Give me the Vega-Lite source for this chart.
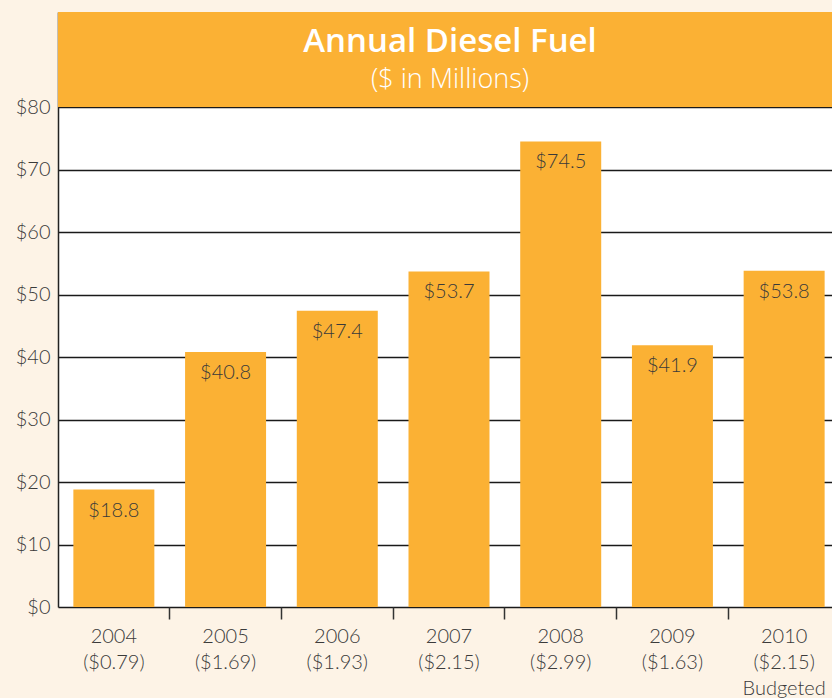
{
  "$schema": "https://vega.github.io/schema/vega-lite/v6.json",
  "width": 774,
  "height": 595,
  "autosize": {"type": "none"},
  "padding": {"left": 58, "top": 12, "right": 0, "bottom": 91},
  "background": "#FDF3E6",
  "config": {"view": {"fill": "white", "stroke": null}, "font": "Lato"},
  "title": {
    "text": "Annual Diesel Fuel",
    "subtitle": "($ in Millions)",
    "anchor": "middle",
    "dx": 5,
    "color": "white",
    "subtitleColor": "white",
    "font": "Open Sans",
    "subtitleFont": "Open Sans",
    "fontSize": 33,
    "fontWeight": 600,
    "subtitleFontSize": 27,
    "subtitleFontWeight": 300,
    "subtitlePadding": 8,
    "offset": -81
  },
  "data": {
    "values": [
      {"label": "2004|($0.79)", "value": 18.8},
      {"label": "2005|($1.69)", "value": 40.8},
      {"label": "2006|($1.93)", "value": 47.4},
      {"label": "2007|($2.15)", "value": 53.7},
      {"label": "2008|($2.99)", "value": 74.5},
      {"label": "2009|($1.63)", "value": 41.9},
      {"label": "2010|($2.15)|Budgeted", "value": 53.8}
    ]
  },
  "encoding": {
    "x": {
      "field": "label",
      "type": "nominal",
      "sort": null,
      "scale": {"range": [0, 782], "paddingInner": 0.275, "paddingOuter": 0.1375},
      "axis": {
        "title": null,
        "labelAngle": 0,
        "labelExpr": "split(datum.label, '|')",
        "labelFontSize": 20,
        "labelFontWeight": 300,
        "labelColor": "#3a3a3a",
        "labelLineHeight": 26,
        "labelPadding": 7,
        "labelBaseline": "top",
        "bandPosition": -0.1896,
        "tickSize": 12,
        "tickColor": "#333",
        "tickWidth": 1.5,
        "tickOpacity": {"condition": {"test": "datum.value === '2004|($0.79)'", "value": 0}, "value": 1},
        "domain": false,
        "grid": false,
        "zindex": 0
      }
    }
  },
  "layer": [
    {
      "mark": {"type": "bar", "color": "#FBB134"},
      "encoding": {
        "y": {
          "field": "value",
          "type": "quantitative",
          "scale": {"domain": [0, 95.2], "nice": false},
          "axis": {
            "title": null,
            "values": [0, 10, 20, 30, 40, 50, 60, 70, 80],
            "format": "$.0f",
            "labelFontSize": 20,
            "labelFontWeight": 300,
            "labelColor": "#3a3a3a",
            "labelPadding": 8,
            "ticks": false,
            "domain": true,
            "domainColor": "#222",
            "domainWidth": 1.5,
            "grid": true,
            "gridColor": "#1a1a1a",
            "gridWidth": 1.5,
            "zindex": 0
          }
        }
      }
    },
    {
      "mark": {"type": "text", "dy": 21, "fontSize": 20, "fontWeight": 300, "color": "#3a3a3a", "baseline": "middle"},
      "encoding": {
        "y": {"field": "value", "type": "quantitative"},
        "text": {"field": "value", "type": "quantitative", "format": "$.1f"}
      }
    },
    {
      "data": {"values": [{}]},
      "mark": {"type": "rect", "color": "#FBB134"},
      "encoding": {
        "x": {"value": 0},
        "x2": {"value": "width"},
        "y": {"datum": 80, "type": "quantitative"},
        "y2": {"datum": 95.2}
      }
    }
  ]
}
